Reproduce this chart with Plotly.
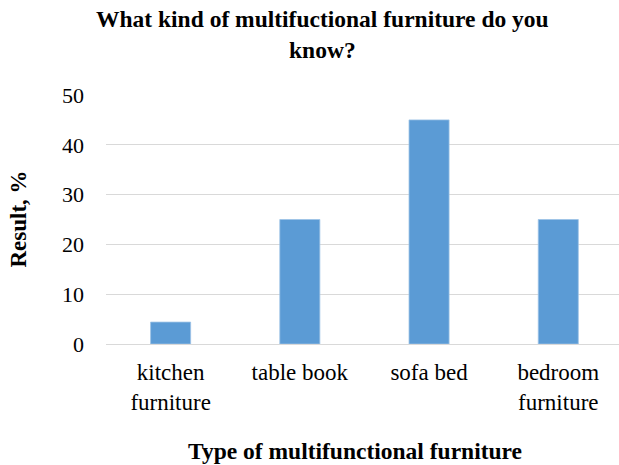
import plotly.graph_objects as go

categories = ["kitchen<br>furniture", "table book", "sofa bed", "bedroom<br>furniture"]
values = [4.4, 25, 45, 25]
y_ticks = [0, 10, 20, 30, 40, 50]

FONT = "Liberation Serif, Times New Roman, serif"

fig = go.Figure()
fig.add_trace(go.Bar(
    x=list(range(len(categories))),
    y=values,
    width=0.31,
    marker=dict(color="#5B9BD5", line=dict(color="#9dc3e6", width=0.8)),
))

fig.update_layout(
    width=619, height=465,
    margin=dict(l=106, r=0, t=95, b=121),
    paper_bgcolor="white", plot_bgcolor="white",
    showlegend=False,
    font=dict(family=FONT, color="black"),
    xaxis=dict(
        tickmode="array",
        tickvals=list(range(len(categories))),
        ticktext=categories,
        range=[-0.5, 3.47],
        showgrid=False, zeroline=False, showline=False,
        ticks="", ticklabelstandoff=12,
        tickfont=dict(size=23, family=FONT, color="black"),
    ),
    yaxis=dict(
        range=[0, 50],
        tickvals=y_ticks,
        showgrid=True, gridcolor="#d9d9d9", gridwidth=1.3,
        zeroline=True, zerolinecolor="#d9d9d9", zerolinewidth=1.3,
        showline=False, ticks="",
        ticklabelstandoff=21,
        tickfont=dict(size=22, family=FONT, color="black"),
    ),
    annotations=[
        dict(text="<b>What kind of multifuctional furniture do you<br>know?</b>",
             xref="paper", yref="paper",
             x=(322.5 - 106) / 513, y=1 + (94.7 - 34.5) / 249.6,
             xanchor="center", yanchor="middle", showarrow=False,
             font=dict(size=23.5, family=FONT, color="black")),
        dict(text="<b>Type of multifunctional furniture</b>",
             xref="paper", yref="paper",
             x=(355 - 106) / 513, y=-(452 - 344.3) / 249.6,
             xanchor="center", yanchor="middle", showarrow=False,
             font=dict(size=23.5, family=FONT, color="black")),
        dict(text="<b>Result, %</b>",
             xref="paper", yref="paper",
             x=(18 - 106) / 513, y=0.5, textangle=-90,
             xanchor="center", yanchor="middle", showarrow=False,
             font=dict(size=23, family=FONT, color="black")),
    ],
)

fig.write_html("out.html", config={"displayModeBar": False},
               post_script="document.body.style.margin='0';")
